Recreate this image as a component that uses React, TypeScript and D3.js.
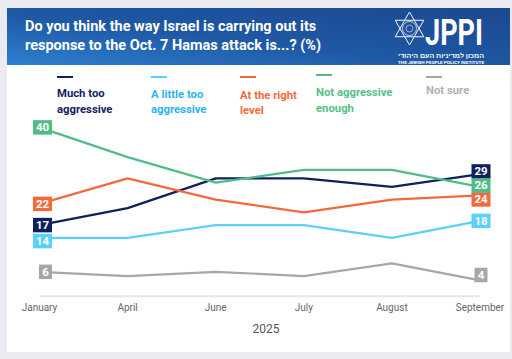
import React from "react";
import * as d3 from "d3";

const months = ["January", "April", "June", "July", "August", "September"];
const yearLabel = "2025";
const seriesNames = ["Much too aggressive", "A little too aggressive", "At the right level", "Not aggressive enough", "Not sure"];
const legendLines = [["Much too", "aggressive"], ["A little too", "aggressive"], ["At the right", "level"], ["Not aggressive", "enough"], ["Not sure"]];
const muchToo = [17, 21, 28, 28, 26, 29];
const littleToo = [14, 14, 17, 17, 14, 18];
const rightLevel = [22, 28, 23, 20, 23, 24];
const notEnough = [40, 33, 27, 30, 30, 26];
const notSure = [6, 5, 6, 5, 8, 4];
const seriesValues = [muchToo, littleToo, rightLevel, notEnough, notSure];
const lineColors = ["#0d215c", "#5bd0fb", "#f26a3c", "#50bd87", "#a7a7a7"];
const textColors = ["#12235f", "#2bb5f0", "#f4693a", "#52c287", "#b2b2b2"];
const titleLines = ["Do you think the way Israel is carrying out its", "response to the Oct. 7 Hamas attack is...? (%)"];

function placeLabels(targets: number[], gap: number, maxY: number, downOnly: boolean) {
  const idx = targets.map((_, i) => i).sort((a, b) => targets[a] - targets[b]);
  const ys = targets.slice();
  for (let it = 0; it < 100; it++) {
    for (let k = 0; k < idx.length - 1; k++) {
      const a = idx[k], b = idx[k + 1];
      const d = ys[b] - ys[a];
      if (d < gap) {
        if (downOnly) {
          ys[b] += gap - d;
        } else {
          const s = (gap - d) / 2;
          ys[a] -= s;
          ys[b] += s;
        }
      }
    }
    for (let k = 0; k < idx.length; k++) ys[k] = Math.min(ys[k], maxY);
  }
  return ys;
}

export default function App() {
  const W = 512, H = 359;
  const x = d3.scalePoint<string>().domain(months).range([39.5, 480]);
  const y = d3.scaleLinear().domain([0, 40]).range([297.3, 127.4]);
  const line = d3.line<number>().x((_, i) => x(months[i])!).y((v) => y(v));

  const last = months.length - 1;
  const janYs = placeLabels(seriesValues.map((s) => y(s[0])), 16, 275, true);
  const sepYs = placeLabels(seriesValues.map((s) => y(s[last])), 14, 275, false);

  const legendX = [57, 151, 240, 316, 426];
  const legendBase = [97, 97.5, 98.5, 96, 94];
  const swatchY = [77, 77, 77, 75, 77];

  const boxW = (v: number) => (String(v).length > 1 ? 19 : 13);
  const boxH = 14.5;

  const cx = 409.5, cy = 28.5, R = 16.5;
  const tri = (rot: number) =>
    d3.range(3).map((k) => {
      const a = rot + (k * 2 * Math.PI) / 3;
      return [cx + R * Math.sin(a), cy - R * Math.cos(a)];
    });
  const t1 = tri(0), t2 = tri(Math.PI);

  return (
    <svg width={W} height={H} style={{ position: "absolute", left: 0, top: 0, display: "block" }} fontFamily="Roboto, 'Noto Sans', sans-serif">
      <defs>
        <linearGradient id="hdr" x1="0" y1="1" x2="1" y2="0">
          <stop offset="0" stopColor="#2d80d1" />
          <stop offset="0.45" stopColor="#1f58a3" />
          <stop offset="1" stopColor="#1b4890" />
        </linearGradient>
      </defs>
      <rect x={0} y={0} width={W} height={H} fill="#ebeaf0" />
      <rect x={7} y={8} width={503} height={344} fill="#ffffff" />
      <rect x={7} y={8} width={503} height={57} fill="url(#hdr)" />
      {titleLines.map((t, i) => (
        <text key={i} x={25} y={30.7 + i * 19.3} fill="#fff" fontSize={14.5} fontWeight={700}>{t}</text>
      ))}
      <g stroke="#fff" strokeWidth={1} fill="none" opacity={0.95}>
        <polygon points={t1.map((p) => p.join(",")).join(" ")} />
        <polygon points={t2.map((p) => p.join(",")).join(" ")} />
        <circle cx={cx} cy={cy} r={7} strokeWidth={0.8} />
        <circle cx={cx} cy={cy} r={3.5} strokeWidth={0.6} />
      </g>
      <text x={425} y={44.5} fill="#fff" fontSize={36} fontWeight={700} textLength={58} lengthAdjust="spacingAndGlyphs">JPPI</text>
      <text x={398} y={58.2} fill="#fff" fontSize={5.9} fontWeight={700} textLength={86} lengthAdjust="spacingAndGlyphs">המכון למדיניות העם היהודי</text>
      <text x={398} y={64} fill="#fff" fontSize={4.4} fontWeight={700} textLength={86} lengthAdjust="spacingAndGlyphs">THE JEWISH PEOPLE POLICY INSTITUTE</text>

      {seriesNames.map((n, i) => (
        <g key={n}>
          <line x1={legendX[i]} x2={legendX[i] + 16} y1={swatchY[i]} y2={swatchY[i]} stroke={lineColors[i]} strokeWidth={2} />
          {legendLines[i].map((t, j) => (
            <text key={j} x={legendX[i]} y={legendBase[i] + j * 15.5} fill={textColors[i]} fontSize={11.3} fontWeight={700}>{t}</text>
          ))}
        </g>
      ))}

      <line x1={x(months[0])} x2={x(months[last])} y1={y(0) - 1} y2={y(0) - 1} stroke="#e6e6e6" strokeWidth={2} />
      {months.map((m) => (
        <text key={m} x={x(m)} y={310.5} textAnchor="middle" fontSize={10} fill="#666">{m}</text>
      ))}
      <text x={266} y={333} textAnchor="middle" fontSize={12} fill="#555">{yearLabel}</text>

      {seriesValues.map((s, i) => (
        <path key={i} d={line(s)!} fill="none" stroke={lineColors[i]} strokeWidth={2.2} strokeLinejoin="round" />
      ))}

      {seriesValues.map((s, i) => {
        const v0 = s[0], v1 = s[last];
        const w0 = boxW(v0), w1 = boxW(v1);
        const xr0 = x(months[0])! + 12.5;
        const xc1 = x(months[last])! + 1;
        return (
          <g key={i}>
            <rect x={xr0 - w0} y={janYs[i] - boxH / 2} width={w0} height={boxH} fill={lineColors[i]} />
            <text x={xr0 - w0 / 2} y={janYs[i] + 4} textAnchor="middle" fill="#fff" fontSize={11.5} fontWeight={700}>{v0}</text>
            <rect x={xc1 - w1 / 2} y={sepYs[i] - boxH / 2} width={w1} height={boxH} fill={lineColors[i]} />
            <text x={xc1} y={sepYs[i] + 4} textAnchor="middle" fill="#fff" fontSize={11.5} fontWeight={700}>{v1}</text>
          </g>
        );
      })}
    </svg>
  );
}
